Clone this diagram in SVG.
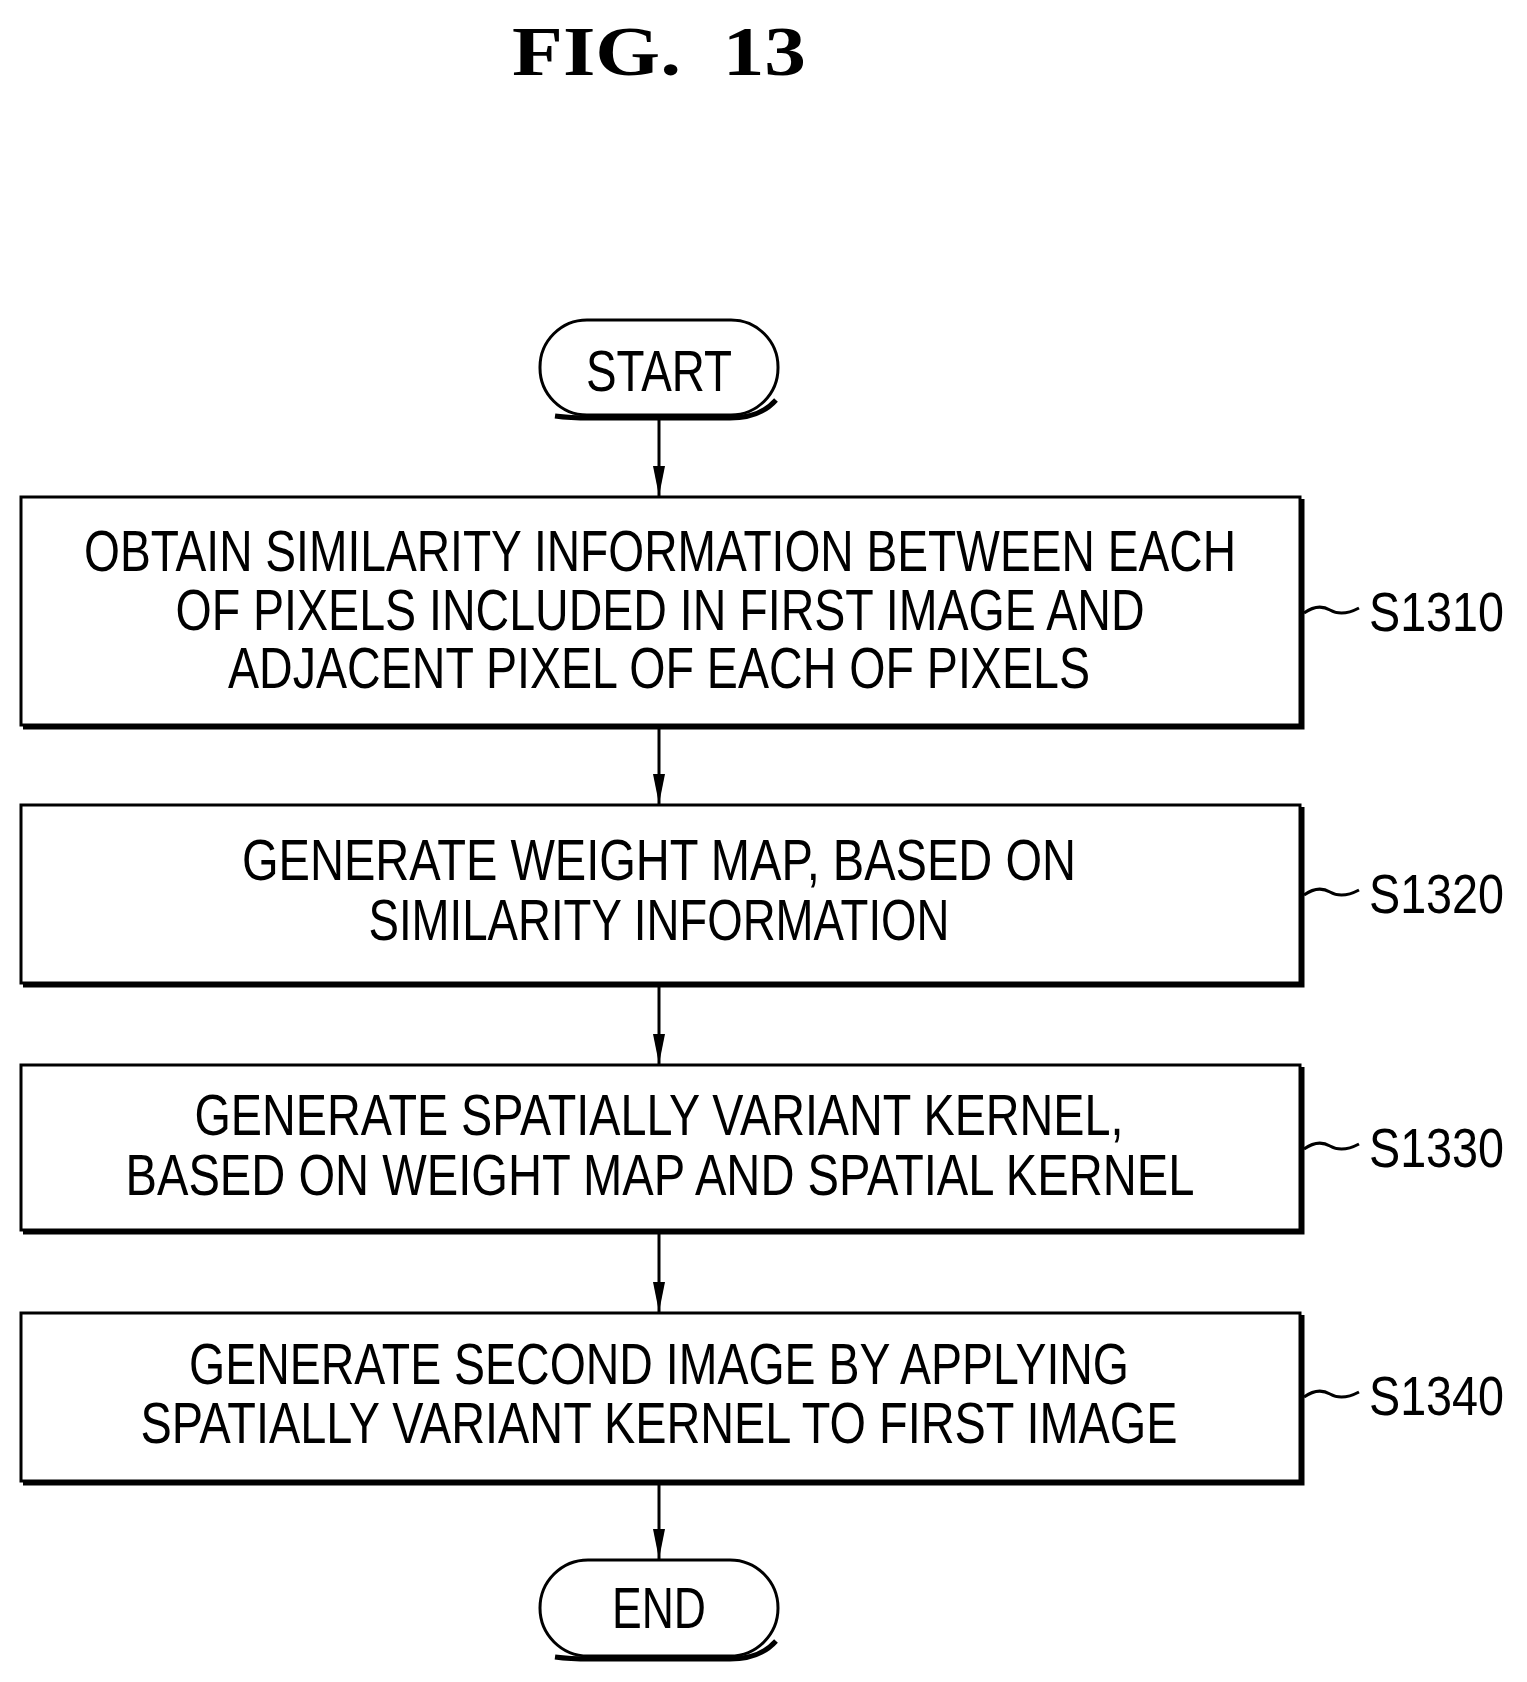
<svg xmlns="http://www.w3.org/2000/svg" width="1527" height="1682" viewBox="0 0 1527 1682">
<style>
.t{font-family:"Liberation Sans",Arial,sans-serif;font-size:58px;fill:#000;text-anchor:middle}
.l{font-family:"Liberation Sans",Arial,sans-serif;font-size:56px;fill:#000}
.b{fill:#fff;stroke:#000;stroke-width:3}
.sh{fill:none;stroke:#000;stroke-width:5}
.c{fill:none;stroke:#000;stroke-width:3}
</style>
<defs><marker id="a" markerWidth="30" markerHeight="12" refX="30" refY="6" orient="auto" markerUnits="userSpaceOnUse"><path d="M0,0 L30,6 L0,12 Z" fill="#000"/></marker></defs>
<rect width="1527" height="1682" fill="#fff"/>
<text x="659" y="75" xml:space="preserve" style="font-family:'Liberation Serif',serif;font-size:70px;font-weight:bold;text-anchor:middle" textLength="294" lengthAdjust="spacingAndGlyphs">FIG.  13</text>
<g id="connectors">
<line class="c" x1="659" y1="418" x2="659" y2="496" marker-end="url(#a)"/>
<line class="c" x1="659" y1="729" x2="659" y2="804" marker-end="url(#a)"/>
<line class="c" x1="659" y1="987" x2="659" y2="1064" marker-end="url(#a)"/>
<line class="c" x1="659" y1="1234" x2="659" y2="1312" marker-end="url(#a)"/>
<line class="c" x1="659" y1="1485" x2="659" y2="1559" marker-end="url(#a)"/>
</g>
<g id="start">
<rect class="b" x="540" y="320" width="238" height="95" rx="47"/>
<path class="sh" d="M555,416 Q570,418 590,418 L730,418 Q760,418 776,400"/>
<text class="t" x="659" y="391" textLength="146" lengthAdjust="spacingAndGlyphs">START</text>
</g>
<g id="s1310">
<rect class="b" x="21" y="497" width="1279" height="228"/>
<path class="sh" d="M23,727 L1302,727 L1302,499"/>
<text class="t" x="660" y="571" textLength="1152" lengthAdjust="spacingAndGlyphs">OBTAIN SIMILARITY INFORMATION BETWEEN EACH</text>
<text class="t" x="660" y="630" textLength="969" lengthAdjust="spacingAndGlyphs">OF PIXELS INCLUDED IN FIRST IMAGE AND</text>
<text class="t" x="659" y="688" textLength="862" lengthAdjust="spacingAndGlyphs">ADJACENT PIXEL OF EACH OF PIXELS</text>
<path class="c" d="M1304,613 Q1318,603 1330,610 Q1342,617 1359,608"/>
<text class="l" x="1369" y="631" textLength="135" lengthAdjust="spacingAndGlyphs">S1310</text>
</g>
<g id="s1320">
<rect class="b" x="21" y="805" width="1279" height="178"/>
<path class="sh" d="M23,985 L1302,985 L1302,807"/>
<text class="t" x="659" y="880" textLength="834" lengthAdjust="spacingAndGlyphs">GENERATE WEIGHT MAP, BASED ON</text>
<text class="t" x="659" y="940" textLength="581" lengthAdjust="spacingAndGlyphs">SIMILARITY INFORMATION</text>
<path class="c" d="M1304,895 Q1318,885 1330,892 Q1342,899 1359,890"/>
<text class="l" x="1369" y="913" textLength="135" lengthAdjust="spacingAndGlyphs">S1320</text>
</g>
<g id="s1330">
<rect class="b" x="21" y="1065" width="1279" height="165"/>
<path class="sh" d="M23,1232 L1302,1232 L1302,1067"/>
<text class="t" x="659" y="1135" textLength="929" lengthAdjust="spacingAndGlyphs">GENERATE SPATIALLY VARIANT KERNEL,</text>
<text class="t" x="660" y="1195" textLength="1069" lengthAdjust="spacingAndGlyphs">BASED ON WEIGHT MAP AND SPATIAL KERNEL</text>
<path class="c" d="M1304,1149 Q1318,1139 1330,1146 Q1342,1153 1359,1144"/>
<text class="l" x="1369" y="1167" textLength="135" lengthAdjust="spacingAndGlyphs">S1330</text>
</g>
<g id="s1340">
<rect class="b" x="21" y="1313" width="1279" height="168"/>
<path class="sh" d="M23,1483 L1302,1483 L1302,1315"/>
<text class="t" x="659" y="1384" textLength="940" lengthAdjust="spacingAndGlyphs">GENERATE SECOND IMAGE BY APPLYING</text>
<text class="t" x="659" y="1443" textLength="1037" lengthAdjust="spacingAndGlyphs">SPATIALLY VARIANT KERNEL TO FIRST IMAGE</text>
<path class="c" d="M1304,1397 Q1318,1387 1330,1394 Q1342,1401 1359,1392"/>
<text class="l" x="1369" y="1415" textLength="135" lengthAdjust="spacingAndGlyphs">S1340</text>
</g>
<g id="end">
<rect class="b" x="540" y="1560" width="238" height="96" rx="48"/>
<path class="sh" d="M555,1657 Q570,1659 590,1659 L730,1659 Q760,1659 776,1641"/>
<text class="t" x="659" y="1628" textLength="94" lengthAdjust="spacingAndGlyphs">END</text>
</g>
</svg>
